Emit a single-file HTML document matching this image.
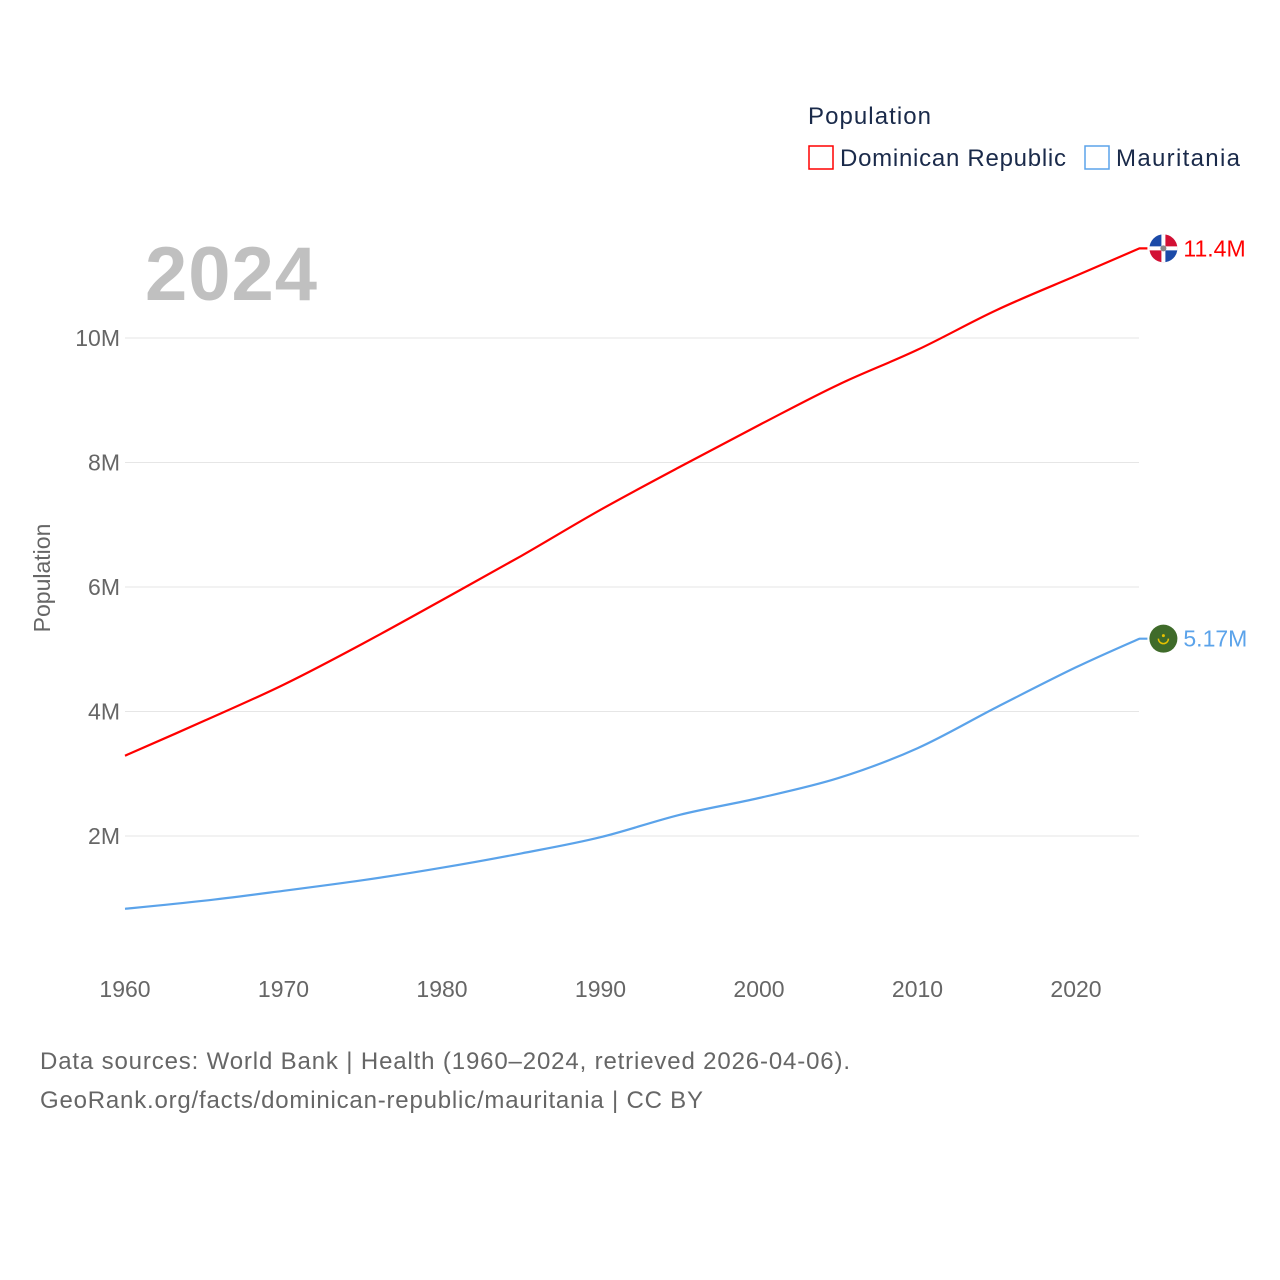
<!DOCTYPE html>
<html><head><meta charset="utf-8">
<style>
body{margin:0;background:#fff;font-family:"Liberation Sans",sans-serif;}
svg{display:block}
</style></head>
<body>
<svg width="1280" height="1280" viewBox="0 0 1280 1280">
<g id="grid"></g>
<g id="xticks"></g>
<text x="50" y="578" transform="rotate(-90 50 578)" text-anchor="middle" font-size="23" fill="#666">Population</text>
<text x="145" y="300" font-size="76" font-weight="bold" fill="#c0c0c0" textLength="172">2024</text>
<text x="808" y="124" font-size="24" fill="#1a2a4a" textLength="123">Population</text>
<g>
<rect x="809" y="146" width="24" height="23" fill="none" stroke="#f00" stroke-width="1.5"/>
<text x="840" y="166" font-size="24" fill="#1a2a4a" textLength="226">Dominican Republic</text></g>
<g>
<rect x="1085" y="146" width="24" height="23" fill="none" stroke="#5ba3ea" stroke-width="1.5"/>
<text x="1116" y="166" font-size="24" fill="#1a2a4a" textLength="124">Mauritania</text></g>
<g id="series"></g>
<text x="40" y="1069" font-size="24" fill="#666" textLength="810">Data sources: World Bank | Health (1960–2024, retrieved 2026-04-06).</text>
<text x="40" y="1108" font-size="24" fill="#666" textLength="663">GeoRank.org/facts/dominican-republic/mauritania | CC BY</text>
</svg>
<script>
const years=[1960,1965,1970,1975,1980,1985,1990,1995,2000,2005,2010,2015,2020,2024];
const domRep=[3.29,3.85,4.43,5.09,5.79,6.5,7.24,7.93,8.6,9.25,9.81,10.45,11.0,11.44];
const mauritania=[0.83,0.96,1.12,1.29,1.49,1.72,1.98,2.34,2.61,2.93,3.41,4.07,4.71,5.17];
const endLabels=["11.4M","5.17M"];
const yTicks=[2,4,6,8,10];
const xTicks=[1960,1970,1980,1990,2000,2010,2020];
const NS="http://www.w3.org/2000/svg";
const X=y=>125+(y-1960)*951/60;
const Y=v=>960.5-v*62.25;
function mk(t,a,p){const e=document.createElementNS(NS,t);for(const k in a)e.setAttribute(k,a[k]);p.appendChild(e);return e;}
const grid=document.getElementById('grid');
yTicks.forEach(v=>{
 const l=mk('line',{x1:125,x2:1139,y1:Y(v),y2:Y(v),stroke:'#e6e6e6','stroke-width':1},grid);
 
 
 const t=mk('text',{x:120,y:Y(v)+8,'text-anchor':'end','font-size':23,fill:'#666'},grid);
 t.textContent=v+'M';
 
 
});
const xt=document.getElementById('xticks');
xTicks.forEach(y=>{
 const t=mk('text',{x:X(y),y:997,'text-anchor':'middle','font-size':23,fill:'#666'},xt);
 t.textContent=y;
 
 
});
function smooth(pts){
 let d='M'+pts[0][0].toFixed(1)+','+pts[0][1].toFixed(1);
 for(let i=0;i<pts.length-1;i++){
  const p0=pts[Math.max(0,i-1)],p1=pts[i],p2=pts[i+1],p3=pts[Math.min(pts.length-1,i+2)];
  const c1x=p1[0]+(p2[0]-p0[0])/6,c1y=p1[1]+(p2[1]-p0[1])/6;
  const c2x=p2[0]-(p3[0]-p1[0])/6,c2y=p2[1]-(p3[1]-p1[1])/6;
  d+='C'+c1x.toFixed(1)+','+c1y.toFixed(1)+' '+c2x.toFixed(1)+','+c2y.toFixed(1)+' '+p2[0].toFixed(1)+','+p2[1].toFixed(1);
 }
 return d;
}
const sg=document.getElementById('series');
[[domRep,'#f00','dominican-republic'],[mauritania,'#5ba3ea','mauritania']].forEach((s,i)=>{
 const vals=s[0];
 const pts=vals.map((v,j)=>[X(years[j]),Y(v)]);
 const last=Y(vals[vals.length-1]);
 const d=smooth(pts)+'L'+(X(2024)+8)+','+last.toFixed(1);
 const p=mk('path',{d:d,fill:'none',stroke:s[1],'stroke-width':2.2,'stroke-linejoin':'round'},sg);
 
 
 const cx=X(2024)+24;
 const g=mk('g',{},sg);
 
 
 if(i===0){
  mk('circle',{cx:cx,cy:last,r:14,fill:'#fff'},g);
  mk('path',{d:`M${cx-14},${last}A14,14 0 0 1 ${cx},${last-14}V${last}Z`,fill:'#1b4aa8'},g);
  mk('path',{d:`M${cx},${last-14}A14,14 0 0 1 ${cx+14},${last}H${cx}Z`,fill:'#d21034'},g);
  mk('path',{d:`M${cx-14},${last}A14,14 0 0 0 ${cx},${last+14}V${last}Z`,fill:'#d21034'},g);
  mk('path',{d:`M${cx},${last+14}A14,14 0 0 0 ${cx+14},${last}H${cx}Z`,fill:'#1b4aa8'},g);
  mk('rect',{x:cx-14,y:last-2,width:28,height:4,fill:'#fff'},g);
  mk('rect',{x:cx-2,y:last-14,width:4,height:28,fill:'#fff'},g);
  mk('circle',{cx:cx,cy:last,r:3,fill:'#888'},g);
 }else{
  mk('circle',{cx:cx,cy:last,r:14,fill:'#3f6b2a'},g);
  mk('path',{d:`M${cx-5},${last}A5,5 0 0 0 ${cx+5},${last}`,fill:'none',stroke:'#e8c200','stroke-width':1.5},g);
  mk('circle',{cx:cx,cy:last-3,r:1.5,fill:'#e8c200'},g);
 }
 const t=mk('text',{x:cx+20,y:last+8,'font-size':23,fill:s[1]},sg);
 t.textContent=endLabels[i];
 
 
});
</script>
</body></html>
